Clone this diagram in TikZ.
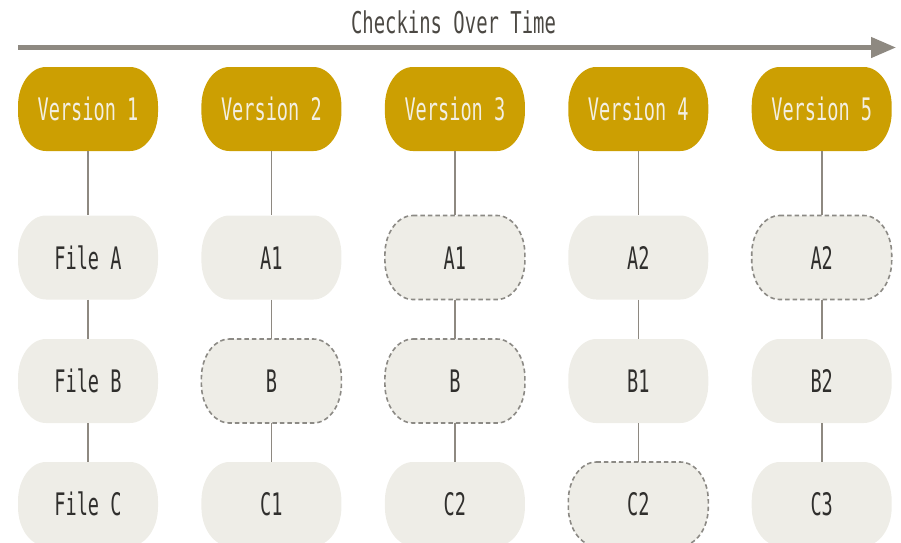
\documentclass[tikz,border=0pt]{standalone}
\usepackage{fontspec}
\usetikzlibrary{arrows.meta}
\newfontfamily\boxfont[FakeStretch=0.6]{DejaVu Sans Mono}
\newfontfamily\headfont[FakeStretch=0.63]{DejaVu Sans Mono}
\definecolor{gold}{HTML}{CC9F02}
\definecolor{goldtext}{HTML}{F3EFE2}
\definecolor{paper}{HTML}{EEEDE7}
\definecolor{linegray}{HTML}{8E8981}
\definecolor{dashgray}{HTML}{8C8A85}
\definecolor{ink}{HTML}{302F2D}
\definecolor{headink}{HTML}{4B4843}

% capsule outline centred on the current origin (pixel units, y down):
% elliptic corners 28 wide and 39 high, half size 70 x 42
\newcommand\capsulepath{%
  (-42,-42) -- (42,-42) .. controls (57.5,-42) and (70,-24.5) .. (70,-3)
  -- (70,3) .. controls (70,24.5) and (57.5,42) .. (42,42)
  -- (-42,42) .. controls (-57.5,42) and (-70,24.5) .. (-70,3)
  -- (-70,-3) .. controls (-70,-24.5) and (-57.5,-42) .. (-42,-42) -- cycle}

% #1 node name, #2 x, #3 y, #4 shape style, #5 text style, #6 label
\newcommand\capsule[6]{%
  \path[#4, shift={(#2,#3)}] \capsulepath;
  \node[boxlabel, #5] (#1) at (#2,#3) {#6};}

\tikzset{
  version/.style={fill=gold},
  filebox/.style={fill=paper},
  changed/.style={fill=paper, draw=dashgray, line width=1.6pt, dash pattern=on 4.5pt off 3pt},
  boxlabel/.style={rectangle, inner sep=0pt, minimum width=140pt, minimum height=84pt,
    text height=23pt, text depth=0pt, font=\boxfont\fontsize{31}{31}\selectfont},
  vtext/.style={text=goldtext},
  ftext/.style={text=ink},
  link/.style={draw=linegray, line width=1.6pt},
  timeline/.style={draw=linegray, line width=4.5pt, -{Triangle[length=25pt, width=20pt]}},
}

\begin{document}
\begin{tikzpicture}[x=1pt, y=-1pt]
\useasboundingbox (0,0) rectangle (901,542);
\clip (0,0) rectangle (901,542);

% time axis
\coordinate (tstart) at (18,47.5);
\coordinate (tend) at (896,47.5);
\draw[timeline] (tstart) -- (tend);
\node[font=\headfont\fontsize{30}{30}\selectfont, text=headink, text height=22pt, text depth=0pt, inner sep=0pt]
  (title) at (453.5,22) {Checkins Over Time};

% column 1
\capsule{v1}{88}{109}{version}{vtext}{Version 1}
\capsule{a1}{88}{257.5}{filebox}{ftext}{File A}
\capsule{b1}{88}{381}{filebox}{ftext}{File B}
\capsule{c1}{88}{504}{filebox}{ftext}{File C}
% column 2
\capsule{v2}{271.4}{109}{version}{vtext}{Version 2}
\capsule{a2}{271.4}{257.5}{filebox}{ftext}{A1}
\capsule{b2}{271.4}{381}{changed}{ftext}{B}
\capsule{c2}{271.4}{504}{filebox}{ftext}{C1}
% column 3
\capsule{v3}{454.9}{109}{version}{vtext}{Version 3}
\capsule{a3}{454.9}{257.5}{changed}{ftext}{A1}
\capsule{b3}{454.9}{381}{changed}{ftext}{B}
\capsule{c3}{454.9}{504}{filebox}{ftext}{C2}
% column 4
\capsule{v4}{638.3}{109}{version}{vtext}{Version 4}
\capsule{a4}{638.3}{257.5}{filebox}{ftext}{A2}
\capsule{b4}{638.3}{381}{filebox}{ftext}{B1}
\capsule{c4}{638.3}{504}{changed}{ftext}{C2}
% column 5
\capsule{v5}{821.7}{109}{version}{vtext}{Version 5}
\capsule{a5}{821.7}{257.5}{changed}{ftext}{A2}
\capsule{b5}{821.7}{381}{filebox}{ftext}{B2}
\capsule{c5}{821.7}{504}{filebox}{ftext}{C3}

% vertical links in each column
\foreach \i in {1,...,5}{
  \draw[link] (v\i.south) -- (a\i.north);
  \draw[link] (a\i.south) -- (b\i.north);
  \draw[link] (b\i.south) -- (c\i.north);
}
\end{tikzpicture}
\end{document}
